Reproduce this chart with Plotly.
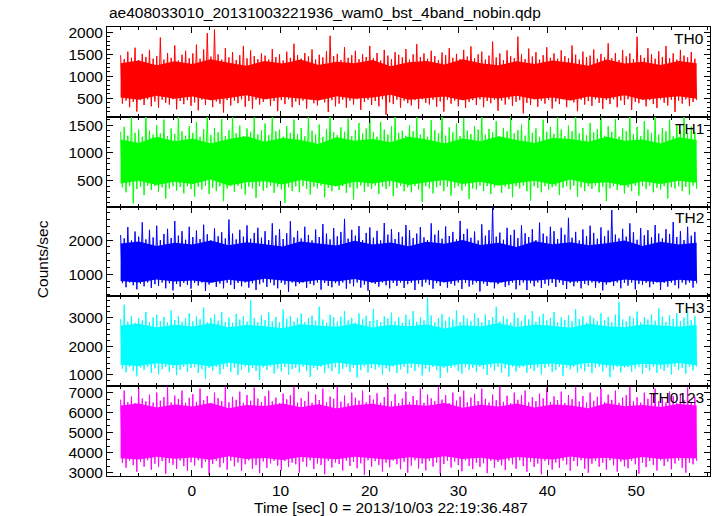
import numpy as np
import plotly.graph_objects as go
from plotly.subplots import make_subplots

title_text = "ae408033010_20131003221936_wam0_bst_4band_nobin.qdp"
x_title = "Time [sec] 0 = 2013/10/03 22:19:36.487"
y_title = "Counts/sec"
band_names = ["TH0", "TH1", "TH2", "TH3", "TH0123"]
band_colors = ["#ff0000", "#00ff00", "#0000ff", "#00ffff", "#ff00ff"]
t_start, t_end = -8.0, 56.8

# ---- TH0 ----
th0_peak = [1480, 1390, 1560, 1420, 1650, 1370, 1510, 1440, 1600, 1400,
            1460, 1880, 1380, 1530, 1420, 1700, 1360, 1490, 1580, 1410,
            1520, 1720, 1400, 1610, 1980, 1450, 2060, 1500, 1380, 1640,
            1430, 1550, 1370, 1480, 1690, 1410, 1590, 1460, 1390, 1520,
            1470, 1380, 1620, 1440, 1500, 1360, 1560, 1420, 1740, 1480,
            1400, 1530, 1450, 1610, 1380, 1490, 1430, 1570, 1920, 1460,
            1510, 1370, 1660, 1420, 1480, 1580, 1390, 1500, 1440, 1690,
            1410, 1530, 1360, 1600, 1470, 1390, 1550, 1490, 1430, 1620,
            1380, 1500, 1730, 1440, 1520, 1400, 1580, 1460, 1370, 1540,
            1480, 1640, 1420, 1510, 1390, 1600, 1450, 1680, 1410, 1500,
            1560, 1380, 1470, 1790, 1430, 1520, 1370, 1590, 1460, 1410,
            1900, 1500, 1390, 1630, 1450, 1550, 1380, 1480, 1660, 1420,
            1520, 1400, 1590, 1460, 1410, 1700, 1490, 1380, 1560, 1440,
            1470, 1610, 1400, 1510, 1430, 1750, 1410, 1530, 1370, 1600,
            1450, 1520, 1390, 1900, 1480, 1420, 1640, 1500, 1400, 1570,
            1440, 1690, 1410, 1520, 1380, 1600, 1470, 1430, 1550, 1400]
th0_dip = [380, 450, 300, 420, 200, 460, 350, 480, 320, 430,
           290, 470, 400, 360, 480, 250, 440, 370, 460, 330,
           410, 230, 470, 350, 480, 300, 430, 380, 180, 460,
           340, 450, 390, 480, 310, 440, 260, 470, 360, 420,
           480, 330, 440, 210, 460, 370, 480, 300, 430, 350,
           450, 270, 470, 390, 340, 480, 410, 190, 460, 320,
           380, 470, 290, 450, 360, 480, 240, 420, 470, 350,
           440, 320, 480, 130, 410, 370, 470, 290, 450, 390,
           340, 460, 260, 480, 400, 360, 470, 310, 430, 200,
           470, 380, 450, 320, 480, 280, 420, 460, 350, 480,
           300, 440, 390, 470, 220, 450, 360, 480, 330, 420,
           460, 160, 400, 350, 480, 310, 450, 380, 470, 270,
           430, 370, 480, 300, 460, 410, 210, 470, 360, 440,
           330, 480, 400, 260, 460, 370, 480, 300, 450, 350,
           480, 240, 420, 390, 470, 320, 460, 370, 280, 480,
           400, 340, 470, 190, 450, 380, 480, 330, 420, 460]
th0_core_hi = [1300, 1360, 1250, 1340, 1280, 1390, 1310, 1240, 1350, 1290, 1380,
               1260, 1330, 1300, 1370, 1230, 1320, 1350, 1270, 1390, 1300, 1250,
               1340, 1280, 1360, 1310, 1240, 1380, 1290, 1330, 1260, 1350, 1300]
th0_core_lo = [520, 470, 560, 490, 540, 460, 510, 570, 480, 530, 500,
               450, 550, 490, 520, 580, 470, 510, 540, 460, 530, 500,
               560, 480, 520, 450, 540, 500, 570, 470, 510, 550, 490]

# ---- TH1 ----
th1_peak = [1380, 1470, 1310, 1650, 1360, 1420, 1290, 1700, 1400, 1330,
            1500, 1350, 1600, 1300, 1440, 1340, 1680, 1390, 1310, 1480,
            1360, 1560, 1290, 1430, 1700, 1320, 1450, 1370, 1610, 1300,
            1410, 1680, 1350, 1490, 1300, 1440, 1380, 1640, 1330, 1400,
            1530, 1320, 1700, 1390, 1420, 1290, 1480, 1360, 1600, 1340,
            1450, 1300, 1660, 1400, 1330, 1510, 1290, 1430, 1700, 1370,
            1320, 1460, 1380, 1620, 1300, 1410, 1540, 1350, 1440, 1700,
            1370, 1290, 1560, 1420, 1330, 1480, 1680, 1360, 1400, 1310,
            1500, 1390, 1650, 1330, 1440, 1290, 1590, 1410, 1350, 1700,
            1310, 1460, 1370, 1530, 1300, 1630, 1400, 1340, 1480, 1420,
            1700, 1330, 1430, 1370, 1570, 1290, 1450, 1390, 1660, 1350,
            1410, 1510, 1310, 1700, 1360, 1440, 1290, 1600, 1380, 1470,
            1340, 1640, 1420, 1300, 1490, 1390, 1700, 1350, 1450, 1320,
            1540, 1370, 1430, 1690, 1310, 1480, 1380, 1610, 1290, 1440,
            1390, 1700, 1340, 1470, 1300, 1570, 1420, 1360, 1650, 1330,
            1450, 1390, 1600, 1300, 1500, 1410, 1700, 1350, 1470, 1380]
th1_dip = [380, 290, 400, 90, 350, 390, 240, 410, 330, 400,
           300, 380, 180, 360, 400, 320, 390, 270, 400, 350,
           210, 390, 340, 410, 260, 370, 310, 400, 130, 360,
           400, 300, 410, 350, 250, 390, 360, 190, 400, 320,
           370, 410, 280, 390, 340, 100, 380, 310, 400, 290,
           400, 350, 250, 390, 360, 410, 200, 370, 310, 400,
           330, 400, 280, 380, 160, 360, 410, 300, 390, 350,
           410, 260, 390, 350, 400, 220, 370, 410, 310, 380,
           290, 400, 340, 120, 400, 360, 270, 380, 410, 310,
           390, 230, 370, 400, 320, 400, 170, 360, 340, 410,
           310, 400, 260, 380, 410, 280, 390, 350, 200, 400,
           360, 410, 310, 140, 400, 370, 290, 400, 340, 380,
           400, 240, 370, 400, 340, 410, 210, 380, 310, 400,
           350, 410, 290, 390, 130, 360, 400, 330, 410, 270,
           380, 310, 410, 230, 400, 350, 410, 290, 370, 340,
           400, 180, 380, 360, 400, 310, 390, 250, 410, 350]
th1_core_hi = [1240, 1180, 1290, 1210, 1260, 1170, 1250, 1300, 1200, 1270, 1230,
               1160, 1280, 1220, 1250, 1190, 1290, 1240, 1170, 1260, 1210, 1300,
               1230, 1180, 1270, 1250, 1200, 1290, 1220, 1240, 1170, 1280, 1230]
th1_core_lo = [450, 500, 420, 480, 440, 520, 410, 470, 490, 430, 510,
               460, 400, 480, 450, 500, 420, 470, 510, 440, 480, 410,
               460, 500, 430, 520, 450, 470, 410, 490, 440, 500, 460]

# ---- TH2 ----
th2_peak = [2150, 2050, 2380, 1990, 2250, 2100, 2520, 2020, 2300, 2080,
            2420, 2000, 2180, 2330, 2060, 2560, 2130, 2260, 2010, 2390,
            2090, 2280, 2030, 2450, 2170, 1990, 2340, 2110, 2230, 2050,
            2600, 2190, 2020, 2300, 2100, 2430, 2040, 2210, 2360, 2070,
            2260, 2000, 2490, 2140, 2320, 2030, 2200, 2550, 2080, 2270,
            2050, 2390, 2150, 1990, 2310, 2090, 2470, 2190, 2020, 2350,
            2110, 2240, 2620, 2040, 2300, 2130, 2410, 2000, 2210, 2370,
            2070, 2270, 1990, 2500, 2160, 2320, 2030, 2230, 2100, 2440,
            2290, 2060, 2190, 2380, 2080, 2000, 2490, 2160, 2280, 2040,
            2400, 2120, 2240, 2020, 2560, 2180, 2330, 2070, 2250, 1990,
            2460, 2130, 2290, 2980, 2100, 2220, 2010, 2360, 2150, 2300,
            2060, 2430, 2200, 2090, 2320, 2000, 2510, 2190, 2110, 2390,
            2260, 2030, 2360, 2160, 2650, 2070, 2240, 1990, 2310, 2120,
            2420, 2210, 2040, 2370, 2110, 2280, 2880, 2160, 2050, 2330,
            2100, 2490, 2230, 2010, 2350, 2140, 2290, 2080, 2440, 2190,
            2050, 2320, 2180, 2530, 2090, 2260, 2000, 2390, 2130, 2240]
th2_dip = [740, 620, 760, 680, 560, 730, 650, 760, 600, 710,
           660, 760, 590, 740, 530, 720, 640, 750, 690, 580,
           750, 670, 760, 510, 700, 760, 630, 730, 590, 750,
           690, 570, 750, 650, 760, 610, 740, 540, 710, 760,
           630, 760, 680, 590, 750, 700, 490, 760, 650, 730,
           760, 600, 720, 680, 760, 550, 750, 660, 620, 740,
           670, 760, 580, 730, 650, 760, 610, 700, 520, 750,
           720, 640, 760, 680, 590, 750, 660, 760, 600, 710,
           750, 540, 730, 640, 760, 690, 580, 740, 660, 760,
           610, 720, 670, 760, 570, 750, 640, 700, 760, 500,
           730, 660, 760, 590, 710, 760, 630, 680, 760, 560,
           680, 760, 540, 740, 650, 760, 600, 720, 670, 750,
           630, 760, 690, 570, 750, 650, 760, 590, 720, 680,
           760, 610, 740, 530, 700, 760, 660, 760, 590, 750,
           670, 760, 560, 720, 690, 750, 620, 710, 760, 540,
           750, 640, 760, 680, 590, 760, 700, 760, 610, 730]
th2_core_hi = [1900, 1960, 1830, 1920, 1870, 1990, 1850, 1940, 1880, 1810, 1960,
               1900, 1840, 1980, 1870, 1930, 1820, 1950, 1890, 2000, 1860, 1920,
               1800, 1970, 1880, 1940, 1850, 1910, 1990, 1830, 1950, 1870, 1920]
th2_core_lo = [800, 760, 850, 790, 820, 750, 840, 780, 870, 810, 770,
               830, 790, 860, 760, 820, 800, 850, 770, 840, 790, 750,
               830, 810, 860, 780, 820, 760, 850, 800, 770, 840, 800]

# ---- TH3 ----
th3_peak = [2950, 3450, 2850, 3050, 2820, 2980, 2900, 3200, 2840, 3000,
            3100, 2880, 3020, 2830, 3250, 2920, 3060, 2850, 2970, 3150,
            2870, 3040, 2940, 3350, 2830, 2990, 3110, 2890, 3200, 2850,
            3000, 2820, 3130, 2930, 3050, 2860, 3600, 2980, 2840, 3090,
            2910, 3180, 2870, 3020, 2830, 3280, 2960, 3060, 2860, 2990,
            3140, 2840, 2980, 3070, 2890, 3380, 2930, 2820, 3100, 3010,
            2860, 3030, 3220, 2900, 2990, 2830, 3150, 2950, 3060, 2880,
            3300, 2920, 2840, 3050, 2970, 3170, 2870, 3010, 2820, 3100,
            2940, 3230, 2850, 3000, 2900, 3700, 3070, 2830, 2980, 3120,
            2890, 3020, 2930, 3260, 2840, 3080, 2970, 2870, 3160, 2990,
            2830, 3110, 2910, 3020, 3380, 2860, 3050, 2960, 2820, 3170,
            2990, 2880, 3090, 2940, 3230, 2850, 3030, 3130, 2900, 2980,
            3200, 2840, 3010, 2920, 3080, 2870, 3290, 2950, 3040, 2830,
            3070, 2970, 2880, 3150, 2910, 3020, 2840, 3100, 3550, 2940,
            2860, 3060, 2980, 3210, 2830, 3010, 2930, 3120, 2890, 3320,
            3030, 2850, 3080, 2950, 3150, 2880, 3000, 3240, 2910, 3050]
th3_dip = [1200, 1080, 1270, 1130, 940, 1250, 1160, 1280, 1060, 1220,
           1010, 1190, 1270, 1100, 1240, 980, 1170, 1280, 1090, 1230,
           1260, 1060, 1190, 860, 1240, 1140, 1280, 1020, 1200, 1270,
           1100, 1250, 990, 1180, 1280, 1070, 1230, 1130, 820, 1260,
           1160, 1280, 1040, 1210, 1110, 1270, 1000, 1190, 1250, 1080,
           1280, 1140, 920, 1240, 1170, 1280, 1050, 1220, 1120, 1260,
           1030, 1200, 1270, 1090, 1250, 900, 1160, 1280, 1070, 1230,
           1180, 1260, 1010, 1220, 1110, 1280, 1060, 1190, 1280, 1040,
           1250, 1130, 1280, 970, 1210, 1100, 1270, 1160, 880, 1250,
           1080, 1230, 1280, 1120, 1030, 1260, 1170, 1240, 1090, 1280,
           1190, 990, 1260, 1140, 1280, 1070, 1220, 940, 1270, 1110,
           1240, 1280, 1060, 1200, 1130, 1260, 1010, 1230, 1280, 1090,
           1160, 1270, 960, 1250, 1180, 1280, 1070, 1210, 1120, 1270,
           1050, 1230, 1280, 1110, 1260, 910, 1180, 1280, 1080, 1250,
           1270, 1100, 1210, 1280, 1030, 1240, 1150, 1280, 1060, 1200,
           1130, 1260, 1000, 1280, 1170, 1230, 1040, 1270, 1150, 1280]
th3_core_hi = [2720, 2780, 2650, 2750, 2690, 2800, 2660, 2740, 2700, 2630, 2770,
               2710, 2680, 2790, 2650, 2740, 2700, 2760, 2620, 2730, 2690, 2800,
               2670, 2750, 2710, 2640, 2780, 2700, 2660, 2760, 2720, 2680, 2740]
th3_core_lo = [1350, 1300, 1400, 1330, 1380, 1290, 1420, 1340, 1310, 1390, 1360,
               1300, 1430, 1340, 1370, 1310, 1400, 1350, 1290, 1380, 1330, 1410,
               1300, 1360, 1390, 1320, 1420, 1340, 1300, 1380, 1350, 1410, 1330]

# ---- TH0123 ----
th0123_peak = [6650, 7100, 6520, 6800, 6480, 7250, 6700, 6560, 6900, 6500,
               7000, 6600, 6780, 7300, 6510, 6850, 6680, 7100, 6490, 6740,
               6920, 6540, 7200, 6620, 6830, 6470, 7000, 6720, 6580, 7300,
               6510, 6790, 6640, 7050, 6490, 6880, 6590, 7250, 6700, 6530,
               6820, 7100, 6560, 6750, 6480, 6950, 6660, 6860, 7300, 6500,
               6720, 6580, 7050, 6490, 6900, 6630, 7200, 6520, 6800, 6690,
               7300, 6550, 6850, 6470, 7000, 6740, 6600, 7100, 6510, 6870,
               6650, 6960, 6500, 6780, 7250, 6560, 6920, 6480, 6700, 7050,
               6530, 6830, 6620, 7200, 6490, 6900, 6710, 6570, 7300, 6650,
               6870, 6480, 7000, 6600, 6800, 7100, 6520, 6750, 6940, 6580,
               7200, 6690, 6500, 6900, 6620, 7300, 6540, 6840, 6470, 7000,
               6640, 6860, 7100, 6510, 6770, 6580, 6950, 6710, 7250, 6530,
               6810, 6620, 7050, 6480, 6880, 6670, 7300, 6550, 6830, 6500,
               7000, 6590, 6790, 7200, 6520, 6900, 6640, 7100, 6490, 6750,
               6870, 7300, 6560, 6770, 6500, 7000, 6690, 6930, 7200, 6580,
               6700, 6510, 7050, 6820, 6480, 6950, 6620, 7250, 6540, 6790]
th0123_dip = [3500, 3250, 3600, 3380, 3050, 3550, 3300, 3620, 3150, 3450,
              3280, 3580, 2950, 3480, 3400, 3200, 3610, 3330, 3100, 3520,
              3360, 3620, 3230, 3550, 2900, 3430, 3590, 3270, 3480, 3150,
              3600, 3320, 3510, 3080, 3420, 3620, 3190, 3380, 2980, 3560,
              3240, 3470, 3600, 3350, 3120, 3580, 3280, 3500, 3420, 3000,
              3550, 3300, 3620, 3180, 3460, 3380, 2920, 3590, 3260, 3510,
              3430, 3110, 3610, 3340, 3540, 3220, 3470, 2880, 3620, 3300,
              3580, 3390, 3060, 3500, 3270, 3610, 3420, 3170, 3550, 3000,
              3350, 3620, 3210, 3460, 3120, 3590, 3310, 3510, 2940, 3430,
              3600, 3260, 3550, 3380, 3070, 3620, 3340, 3180, 3500, 3290,
              3470, 2980, 3590, 3250, 3540, 3370, 3130, 3610, 3420, 3200,
              3620, 3330, 3050, 3550, 3290, 3460, 2920, 3590, 3380, 3160,
              3510, 3240, 3610, 3410, 3100, 3580, 3330, 3620, 3200, 3000,
              3450, 3590, 3300, 3500, 3150, 3620, 3370, 3060, 3550, 3320,
              3220, 3600, 3420, 2950, 3510, 3280, 3580, 3390, 3110, 3620,
              3340, 3550, 3170, 3460, 3610, 3250, 3000, 3500, 3420, 3580]
th0123_core_hi = [6350, 6450, 6250, 6400, 6300, 6480, 6220, 6380, 6330, 6460, 6270,
                  6420, 6200, 6370, 6440, 6290, 6400, 6340, 6480, 6240, 6390, 6310,
                  6450, 6260, 6410, 6360, 6220, 6470, 6320, 6380, 6280, 6430, 6350]
th0123_core_lo = [3720, 3660, 3800, 3700, 3760, 3650, 3820, 3690, 3740, 3640, 3780,
                  3710, 3670, 3800, 3730, 3650, 3770, 3700, 3820, 3680, 3750, 3640,
                  3790, 3720, 3660, 3810, 3700, 3750, 3650, 3780, 3690, 3740, 3710]

peaks = [th0_peak, th1_peak, th2_peak, th3_peak, th0123_peak]
dips = [th0_dip, th1_dip, th2_dip, th3_dip, th0123_dip]
core_hi = [th0_core_hi, th1_core_hi, th2_core_hi, th3_core_hi, th0123_core_hi]
core_lo = [th0_core_lo, th1_core_lo, th2_core_lo, th3_core_lo, th0123_core_lo]

y_ranges = [[82, 2120], [32, 1650], [353, 2980], [596, 3742], [2835, 7320]]
y_dticks = [500, 500, 1000, 1000, 1000]
y_minor = [100, 100, 200, 200, 1000 / 3]

FONT = "Liberation Sans, Arial, Helvetica, sans-serif"
fig = make_subplots(rows=5, cols=1, shared_xaxes=True, vertical_spacing=0)

for k in range(5):
    row = k + 1
    series = []
    for p, d in zip(peaks[k], dips[k]):
        series.append(p)
        series.append(d)
    t = np.linspace(t_start, t_end, len(series))
    tc = np.linspace(t_start, t_end, len(core_hi[k]))
    col = band_colors[k]
    fig.add_trace(go.Scatter(x=tc, y=core_lo[k], mode="lines", line=dict(width=0, color=col),
                             showlegend=False, hoverinfo="skip"), row=row, col=1)
    fig.add_trace(go.Scatter(x=tc, y=core_hi[k], mode="lines", line=dict(width=0, color=col),
                             fill="tonexty", fillcolor=col, showlegend=False, hoverinfo="skip"),
                  row=row, col=1)
    fig.add_trace(go.Scatter(x=t, y=series, mode="lines", line=dict(width=1, color=col),
                             showlegend=False), row=row, col=1)
    fig.update_yaxes(range=y_ranges[k], dtick=y_dticks[k], tick0=0, ticks="inside", ticklen=6,
                     tickwidth=1, tickcolor="black", mirror="allticks", showline=True,
                     linecolor="black", linewidth=1, showgrid=False, zeroline=False,
                     ticklabelstandoff=0,
                     minor=dict(ticks="inside", dtick=y_minor[k], tick0=0, ticklen=3,
                                tickcolor="black", showgrid=False),
                     tickfont=dict(family=FONT, size=15.5, color="black"), row=row, col=1)
    fig.update_xaxes(range=[-9.53, 58.3], dtick=10, tick0=0, ticks="inside", ticklen=6,
                     tickwidth=1, tickcolor="black", mirror="allticks", showline=True,
                     linecolor="black", linewidth=1, showgrid=False, zeroline=False,
                     minor=dict(ticks="inside", dtick=2, tick0=0, ticklen=3,
                                tickcolor="black", showgrid=False),
                     showticklabels=(row == 5),
                     tickfont=dict(family=FONT, size=15.5, color="black"), row=row, col=1)
    fig.add_annotation(text=band_names[k], xref="x domain" if row == 1 else f"x{row} domain",
                       yref="y domain" if row == 1 else f"y{row} domain",
                       x=0.993, y=0.99, xanchor="right", yanchor="top", showarrow=False,
                       font=dict(family=FONT, size=15.5, color="black"))

fig.add_annotation(text=title_text, xref="paper", yref="paper", x=0.0, y=1.0, yshift=4,
                   xanchor="left", yanchor="bottom", showarrow=False,
                   font=dict(family=FONT, size=15.5, color="black"))
fig.add_annotation(text=x_title, xref="paper", yref="paper", x=0.4718, y=0, yshift=-31,
                   xanchor="center", yanchor="middle", showarrow=False,
                   font=dict(family=FONT, size=15.5, color="black"))
fig.add_annotation(text=y_title, xref="paper", yref="paper", x=-0.1078, y=0.483,
                   xanchor="center", yanchor="middle", textangle=-90, showarrow=False,
                   font=dict(family=FONT, size=15.5, color="black"))

fig.update_layout(width=717, height=516, margin=dict(l=107, r=7, t=27, b=40),
                  plot_bgcolor="white", paper_bgcolor="white", showlegend=False)

fig.write_html("out.html", config={"displayModeBar": False},
               post_script="document.body.style.margin='0';")
